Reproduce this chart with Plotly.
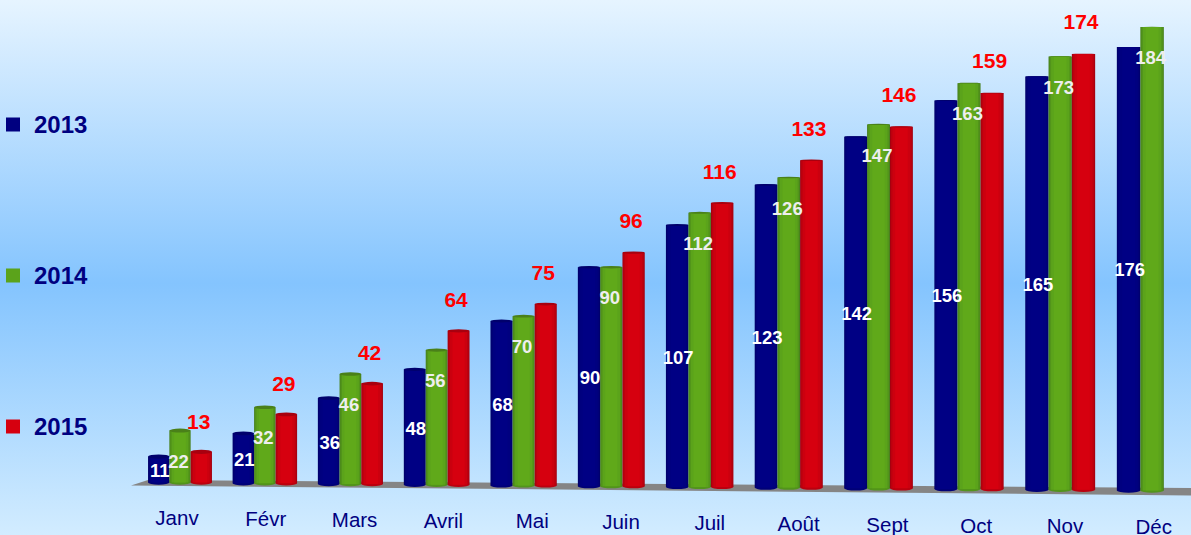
import base64
import plotly.graph_objects as go

months = ["Janv", "Févr", "Mars", "Avril", "Mai", "Juin", "Juil", "Août", "Sept", "Oct", "Nov", "Déc"]
years = ["2013", "2014", "2015"]
v2013 = [11, 21, 36, 48, 68, 90, 107, 123, 142, 156, 165, 176]
v2014 = [22, 32, 46, 56, 70, 90, 112, 126, 147, 163, 173, 184]
v2015 = [13, 29, 42, 64, 75, 96, 116, 133, 146, 159, 174, None]

W, H = 1191, 535
FONT = "Liberation Sans"
NAVY = "#000080"
# colour layers from bar edge to bar centre
SHADES = [
    ["#00006a", "#000078", "#000080", "#000084"],
    ["#47801c", "#52941b", "#5ba31b", "#60a91a"],
    ["#a40010", "#bb000f", "#cb000f", "#d6000f"],
]
LAYER_W = [1.0, 0.92, 0.78, 0.55]
CAPS = ["#00006c", "#4a8019", "#a8000f"]

S0 = 2.36          # px per value unit at the chart's left
Y0 = 482.5         # px of the baseline of the first group


def py(px):
    """pixel row to y-axis units"""
    return (Y0 - px) / S0


def center(i):
    return 180 + 84.5 * i + 0.352 * i * i


def bar_w(i):
    return 21.3 + 0.2 * i


def persp(i):
    return 1 + 0.00614 * i


def base(i):
    return py(Y0 + 0.73 * i)


fig = go.Figure()
shapes = []
series = [v2013, v2014, v2015]

for s, vals in enumerate(series):
    idx = [i for i, v in enumerate(vals) if v is not None]
    xs = [center(i) + (s - 1) * bar_w(i) for i in idx]
    hs = [vals[i] * persp(i) for i in idx]
    bs = [base(i) for i in idx]
    for colour, frac in zip(SHADES[s], LAYER_W):
        fig.add_trace(go.Bar(x=xs, y=hs, base=bs, width=[bar_w(i) * frac for i in idx],
                             marker=dict(color=colour, line=dict(width=0)),
                             hoverinfo="skip", showlegend=False))
    for k, i in enumerate(idx):
        w = bar_w(i) / 2
        top = bs[k] + hs[k]
        # lens of the cylinder: flatter near the top of the picture
        top_px = Y0 - top * S0
        h_top = 2.2 * max(top_px, 0) / 480 / S0
        h_bot = 2.2 / S0
        shapes.append(dict(type="circle", xref="x", yref="y", layer="below",
                           x0=xs[k] - w, x1=xs[k] + w, y0=bs[k] - h_bot, y1=bs[k] + h_bot,
                           fillcolor=SHADES[s][1], line=dict(width=0)))
        shapes.append(dict(type="circle", xref="x", yref="y", layer="above",
                           x0=xs[k] - w, x1=xs[k] + w, y0=top - h_top, y1=top + h_top,
                           fillcolor=CAPS[s], line=dict(width=0)))

# floor
fx = [131, 148, W, W]
fy = [py(485.5), py(480), py(488), py(495.5)]
floor = "M " + " L ".join(f"{a},{b}" for a, b in zip(fx, fy)) + " Z"
shapes.append(dict(type="path", path=floor, xref="x", yref="y", layer="below",
                   fillcolor="#858585", line=dict(width=0)))
shapes = shapes[-1:] + shapes[:-1]


# value labels
def label_trace(s, vals, colour, size, ypos, dx):
    idx = [i for i, v in enumerate(vals) if v is not None]
    return go.Scatter(
        x=[center(i) + (s - 1) * bar_w(i) + dx for i in idx],
        y=[ypos(i, vals[i]) for i in idx],
        text=[str(vals[i]) for i in idx], mode="text", textposition="middle center",
        textfont=dict(family=FONT, size=size, color=colour, weight="bold"),
        hoverinfo="skip", showlegend=False, cliponaxis=False)


fig.add_trace(label_trace(0, v2013, "#ffffff", 18.5,
                          lambda i, v: base(i) + v * persp(i) / 2 - 3 / S0, 1))
fig.add_trace(label_trace(1, v2014, "#eeeeee", 18.5,
                          lambda i, v: base(i) + v * persp(i) - 32.5 / S0, -1.5))
fig.add_trace(label_trace(2, v2015, "#ff0000", 21,
                          lambda i, v: base(i) + v * persp(i) + (28.5 + 0.2 * i) / S0, -2.5))

# month labels
fig.add_trace(go.Scatter(
    x=[177 + 88.8 * i for i in range(12)],
    y=[py(520 + 0.82 * i) for i in range(12)],
    text=months, mode="text", textposition="middle center",
    textfont=dict(family=FONT, size=20.5, color=NAVY),
    hoverinfo="skip", showlegend=False, cliponaxis=False))

# legend
for y_px, name, col in zip([124.5, 275.5, 426.5], years, [SHADES[0][2], SHADES[1][2], "#d6000f"]):
    fig.add_trace(go.Scatter(x=[13], y=[py(y_px)], mode="markers",
                             marker=dict(symbol="square", size=14, color=col, line=dict(width=0)),
                             hoverinfo="skip", showlegend=False))
    fig.add_trace(go.Scatter(x=[34], y=[py(y_px + 2.5)], text=[name], mode="text", textposition="middle right",
                             textfont=dict(family=FONT, size=24, color=NAVY, weight="bold"),
                             hoverinfo="skip", showlegend=False))

svg = ('<svg xmlns="http://www.w3.org/2000/svg" width="100" height="535" preserveAspectRatio="none">'
       '<defs><linearGradient id="g" x1="0" y1="0" x2="0" y2="1">'
       '<stop offset="0" stop-color="#e6f4ff"/>'
       '<stop offset="0.53" stop-color="#84c4fe"/>'
       '<stop offset="1" stop-color="#d2ecff"/>'
       '</linearGradient></defs><rect width="100" height="535" fill="url(#g)"/></svg>')
src = "data:image/svg+xml;base64," + base64.b64encode(svg.encode()).decode()

fig.update_layout(
    width=W, height=H, margin=dict(l=0, r=0, t=0, b=0), barmode="overlay",
    paper_bgcolor="#9fd2ff", plot_bgcolor="rgba(0,0,0,0)", showlegend=False,
    xaxis=dict(range=[0, W], visible=False, fixedrange=True),
    yaxis=dict(range=[py(H), py(0)], visible=False, fixedrange=True),
    shapes=shapes,
    images=[dict(source=src, xref="paper", yref="paper", x=0, y=1, sizex=1, sizey=1,
                 sizing="stretch", xanchor="left", yanchor="top", layer="below")],
)
fig.write_html("out.html", config=dict(displayModeBar=False),
               post_script="document.body.style.margin='0';document.body.style.overflow='hidden';")
